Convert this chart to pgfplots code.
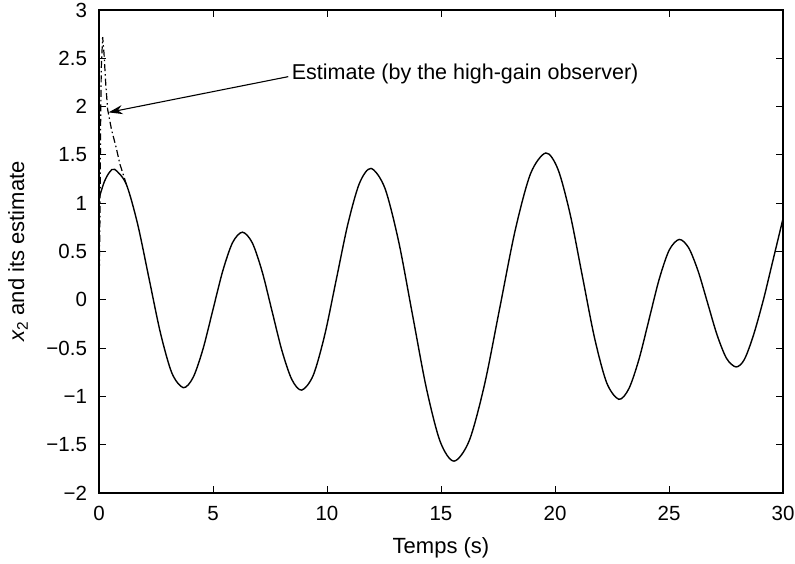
\documentclass[border=0pt]{standalone}
\usepackage{pgfplots}
\pgfplotsset{compat=1.18}
\usetikzlibrary{arrows.meta}
\usepackage{fontspec}
\setmainfont{Liberation Sans}
\begin{document}
\fontsize{20.5bp}{24bp}\selectfont
\begin{tikzpicture}
\begin{axis}[
  scale only axis, width=684bp, height=483bp,
  xmin=0, xmax=30, ymin=-2, ymax=3,
  xtick={0,5,10,15,20,25,30},
  ytick={-2,-1.5,-1,-0.5,0,0.5,1,1.5,2,2.5,3},
  yticklabels={−2,−1.5,−1,−0.5,0,0.5,1,1.5,2,2.5,3},
  /pgf/number format/assume math mode=true,
  tick align=inside, major tick length=7bp,
  every tick/.style={black, line width=1bp},
  axis line style={line width=1.8bp},
  yticklabel style={xshift=-5bp},
  xticklabel style={yshift=-6bp},
  every axis x label/.style={at={(axis description cs:0.5,0)}, anchor=center, yshift=-55bp, font=\fontsize{22bp}{26bp}\selectfont},
  every axis y label/.style={at={(axis description cs:0,0.5)}, anchor=center, rotate=90, yshift=81bp, font=\fontsize{22bp}{26bp}\selectfont},
  xlabel={Temps (s)},
  ylabel={{\itshape x}\textsubscript{2} and its estimate},
  clip=true,
]
% true state x2
\addplot[black, line width=1.4bp, smooth] coordinates {
(0,1.05) (0.23,1.22) (0.46,1.32) (0.69,1.35)
(1.192,1.199) (1.693,0.785) (2.195,0.22) (2.697,-0.345) (3.198,-0.759) (3.70,-0.91)
(4.132,-0.802) (4.563,-0.508) (4.995,-0.105) (5.427,0.298) (5.858,0.592) (6.29,0.70)
(6.723,0.590) (7.157,0.291) (7.59,-0.118) (8.023,-0.526) (8.457,-0.825) (8.89,-0.935)
(9.397,-0.781) (9.903,-0.361) (10.41,0.213) (10.917,0.786) (11.423,1.206) (11.93,1.36)
(12.537,1.157) (13.143,0.603) (13.75,-0.155) (14.357,-0.913) (14.963,-1.467) (15.57,-1.67)
(16.242,-1.456) (16.913,-0.873) (17.585,-0.075) (18.257,0.723) (18.928,1.306) (19.6,1.52)
(20.133,1.349) (20.667,0.883) (21.2,0.245) (21.733,-0.393) (22.267,-0.859) (22.8,-1.03)
(23.242,-0.919) (23.683,-0.616) (24.125,-0.203) (24.567,0.211) (25.008,0.514) (25.45,0.625)
(25.865,0.537) (26.28,0.295) (26.695,-0.035) (27.11,-0.365) (27.525,-0.607) (27.94,-0.695)
(28.3,-0.62) (28.7,-0.37) (29.14,0.0) (29.5,0.35) (30,0.84)
};
% estimate (high-gain observer)
\addplot[black, line width=1.2bp, dash pattern=on 7bp off 3bp on 1.5bp off 3bp] coordinates {
(0,0) (0.04,0.8) (0.07,1.8) (0.10,2.4) (0.16,2.72) (0.22,2.55) (0.30,2.22)
(0.38,1.97) (0.55,1.76) (0.75,1.58) (0.91,1.41) (1.1,1.27) (1.192,1.199)
};
\draw[black, line width=1.1bp, -{Stealth[length=14bp,width=9bp]}] (axis cs:8.3,2.31) -- (axis cs:0.42,1.94);
\node[anchor=west, inner sep=0pt, font=\fontsize{21.5bp}{25bp}\selectfont] at (axis cs:8.45,2.34) {Estimate (by the high-gain observer)};
\end{axis}
\pgfresetboundingbox
\path ([shift={(-99bp,-71bp)}]current axis.south west) rectangle ([shift={(12bp,10bp)}]current axis.north east);
\end{tikzpicture}
\end{document}
